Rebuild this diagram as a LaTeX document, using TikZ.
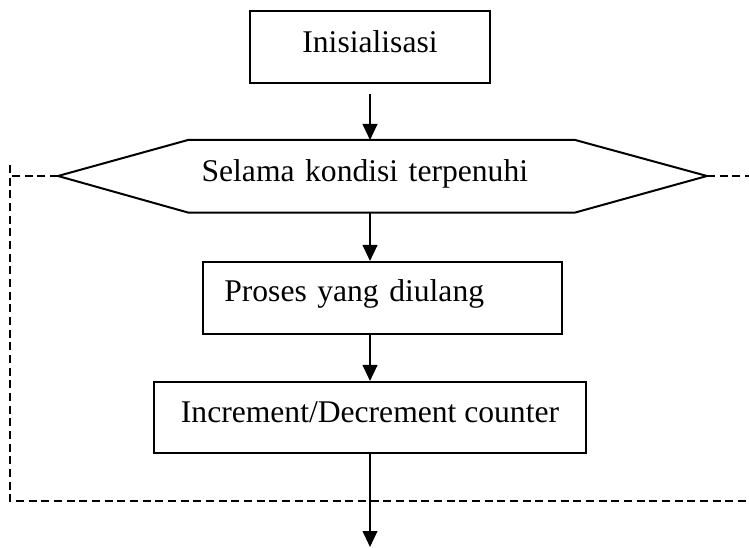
\documentclass[tikz,border=0pt]{standalone}
\usepackage{fontspec}
\setmainfont{Liberation Serif}
\usepackage{tikz}
\usetikzlibrary{positioning, arrows.meta, calc}

\begin{document}
\begin{tikzpicture}[
        x=0.75pt, y=-0.75pt, >=Triangle,
        font=\fontsize{23.7}{28}\selectfont,
        box/.style={draw, line width=1.5pt, inner ysep=0pt, align=center},
        lbox/.style={box, align=left, inner xsep=16pt},
        cond/.style={inner ysep=0pt, inner xsep=10pt, align=left},
        arr/.style={-{Triangle[length=12pt,width=11pt]}, line width=1.5pt},
        loopline/.style={line width=1.5pt, dash pattern=on 6pt off 3.5pt}]
        \useasboundingbox (0,0) rectangle (749,548);
        \node[box, anchor=north, minimum width=180pt, text height=31.5pt, text depth=22.5pt] (init) at (370,10) {Inisialisasi};
        \node[cond, anchor=north west, text width=270pt, text height=31pt, text depth=23pt] (loop) at (188,140) {Selama kondisi terpenuhi};
        \node[lbox, anchor=north west, text width=237.6pt, text height=29.5pt, text depth=24.2pt] (proc) at (202,261) {Proses yang diulang};
        \node[box, anchor=north, minimum width=324pt, text height=30.5pt, text depth=22.75pt] (inc) at (370,381) {Increment/Decrement counter};
        % hexagon round the loop condition
        \coordinate (ltip) at (58,176); \coordinate (rtip) at (707,176);
        \draw[line width=1.5pt, line join=miter] (loop.north west) -- (loop.north east) -- (rtip) -- (loop.south east) -- (loop.south west) -- (ltip) -- cycle;
        % dashed loop frame
        \coordinate (cl) at (10,176); \coordinate (ctop) at (10,165);
        \coordinate (bl) at (10,501); \coordinate (br) at (749,501); \coordinate (cr) at (749,176);
        \draw[loopline] (ltip) -- (cl); \draw[loopline] (ctop) -- (bl) -- (br); \draw[loopline] (rtip) -- (cr);
        \coordinate (out) at (370,547);
        \draw[arr, shorten <=7.5pt] (init.south) -- (init.south |- loop.north);
        \draw[arr] (init.south |- loop.south) -- (init.south |- proc.north);
        \draw[arr] (init.south |- proc.south) -- (inc.north);
        \draw[arr] (inc.south) -- (out);
      \end{tikzpicture}
\end{document}
